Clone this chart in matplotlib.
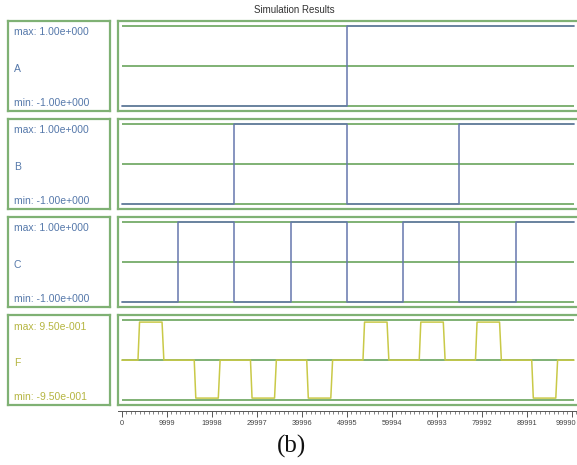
import matplotlib
matplotlib.use("Agg")
import matplotlib.pyplot as plt
from matplotlib.ticker import FixedLocator, MultipleLocator
from matplotlib.transforms import ScaledTranslation

# ---------------- data ----------------
signal_names = ["A", "B", "C", "F"]
max_labels = ["max: 1.00e+000", "max: 1.00e+000", "max: 1.00e+000", "max: 9.50e-001"]
min_labels = ["min: -1.00e+000", "min: -1.00e+000", "min: -1.00e+000", "min: -9.50e-001"]
seg_starts = [0, 12500, 25000, 37500, 50000, 62500, 75000, 87500]
t_end = 100400
A_vals = [-1, -1, -1, -1, 1, 1, 1, 1]
B_vals = [-1, -1, 1, 1, -1, -1, 1, 1]
C_vals = [-1, 1, -1, 1, -1, 1, -1, 1]
F_pulse_sign = [1, -1, -1, -1, 1, 1, 1, -1]
F_amp = 0.95
F_rise_start, F_rise_end = 3550, 3900     # offsets inside each segment
F_fall_start, F_fall_end = 8900, 9300
tick_values = [0, 9999, 19998, 29997, 39996, 49995, 59994, 69993, 79992, 89991, 99990]
tick_labels = [str(v) for v in tick_values]

# ---------------- style ----------------
W, H = 577, 465
GREEN = "#7fb174"
BLUE = "#6677ad"
YELLOW = "#c9c947"
TXT_BLUE = "#5578aa"
TXT_YEL = "#b5b540"
plt.rcParams['font.family'] = ['Liberation Sans', 'DejaVu Sans']

fig = plt.figure(figsize=(W / 100, H / 100), dpi=100)

def rect(L, R, T, B):
    return [L / W, 1 - B / H, (R - L) / W, (B - T) / H]

x0_px, scale = 122.0, 0.0045   # px per unit
plot_L, plot_R = 118, 600
xmin = (plot_L - x0_px) / scale
xmax = (plot_R - x0_px) / scale

def step_xy(vals):
    xs, ys = [], []
    for i, v in enumerate(vals):
        s = seg_starts[i]
        e = seg_starts[i + 1] if i + 1 < len(seg_starts) else t_end
        xs += [s, e]
        ys += [v, v]
    return xs, ys

def pulse_xy(signs):
    xs, ys = [], []
    for i, sg in enumerate(signs):
        s = seg_starts[i]
        e = seg_starts[i + 1] if i + 1 < len(seg_starts) else t_end
        xs += [s, s + F_rise_start, s + F_rise_end, s + F_fall_start, s + F_fall_end, e]
        ys += [0, 0, sg * F_amp, sg * F_amp, 0, 0]
    return xs, ys

series = [step_xy(A_vals), step_xy(B_vals), step_xy(C_vals), pulse_xy(F_pulse_sign)]
colors = [BLUE, BLUE, BLUE, YELLOW]
txt_colors = [TXT_BLUE, TXT_BLUE, TXT_BLUE, TXT_YEL]

panel_h = 90
for i in range(4):
    T = 20.5 + i * 98.2
    B = T + panel_h
    # label box
    lb = fig.add_axes(rect(8, 110, T, B))
    lb.set_xticks([]); lb.set_yticks([])
    for sp in lb.spines.values():
        sp.set_color(GREEN); sp.set_linewidth(1.6)
    lb.set_xlim(0, 102); lb.set_ylim(panel_h, 0)
    lb.text(6, 11.5, max_labels[i], color=txt_colors[i], fontsize=7.5, va='center', ha='left')
    lb.text(6, 48, signal_names[i], color=txt_colors[i], fontsize=7.5, va='center', ha='left')
    lb.text(6, 82, min_labels[i], color=txt_colors[i], fontsize=7.5, va='center', ha='left')

    # plot box
    ax = fig.add_axes(rect(plot_L, plot_R, T, B))
    ax.set_xticks([]); ax.set_yticks([])
    for sp in ax.spines.values():
        sp.set_color(GREEN); sp.set_linewidth(1.6)
    ax.set_xlim(xmin, xmax)
    ax.set_ylim(-45 / 40, 45 / 40)
    for yv in (1, 0, -1):
        ax.plot([0, t_end], [yv, yv], color=GREEN, lw=1.4, solid_capstyle='butt')
    xs, ys = series[i]
    ax.plot(xs, ys, color=colors[i], lw=1.1)

# title
fig.text(294 / W, 1 - 10 / H, "Simulation Results", ha='center', va='center',
         fontsize=7, color="#333333")

# time axis
tax = fig.add_axes(rect(plot_L, plot_R, 405, 410.5))
tax.set_xlim(xmin, xmax)
tax.set_yticks([])
for k in ('top', 'left', 'right'):
    tax.spines[k].set_visible(False)
tax.spines['bottom'].set_color("#555555")
tax.spines['bottom'].set_linewidth(0.7)
tax.patch.set_alpha(0)
tax.xaxis.set_major_locator(FixedLocator(tick_values))
tax.set_xticklabels(tick_labels, fontsize=5.3, color="#444444")
tax.xaxis.set_minor_locator(MultipleLocator(999.9))
tax.tick_params(axis='x', which='major', length=4, width=0.7, color="#555555", pad=3)
tax.tick_params(axis='x', which='minor', length=2, width=0.5, color="#555555")
last = tax.get_xticklabels()[-1]
last.set_ha('right')
last.set_transform(last.get_transform() + ScaledTranslation(4 / 100, 0, fig.dpi_scale_trans))

# caption
fig.text(292 / W, 1 - 446 / H, "(b)", ha='center', va='center', fontsize=18,
         family=['Liberation Serif', 'DejaVu Serif'], color="#111111")

fig.savefig("out.png", dpi=100)
